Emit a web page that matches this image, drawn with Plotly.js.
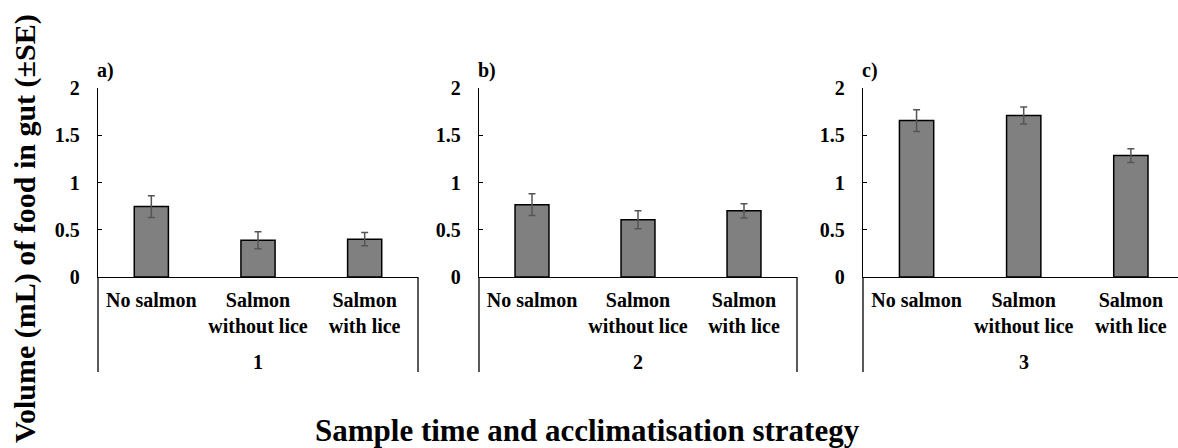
<!DOCTYPE html>
<html>
<head>
<meta charset="utf-8">
<script src="https://cdn.plot.ly/plotly-3.0.1.min.js"></script>
<style>html,body{margin:0;padding:0;background:#fff;}#chart{width:1178px;height:448px;}</style>
</head>
<body>
<div id="chart"></div>
<script>
const categories = ["No salmon", "Salmon without lice", "Salmon with lice"];
const tickLabels = ["No salmon", "Salmon<br>without lice", "Salmon<br>with lice"];
const groupLabels = ["1", "2", "3"];
const panelLabels = ["a)", "b)", "c)"];
const means1 = [0.745, 0.39, 0.40];
const se1 = [0.115, 0.09, 0.07];
const means2 = [0.765, 0.605, 0.70];
const se2 = [0.115, 0.095, 0.075];
const means3 = [1.655, 1.71, 1.285];
const se3 = [0.115, 0.09, 0.073];
const yTitle = "Volume (mL) of food in gut (±SE)";
const xTitle = "Sample time and acclimatisation strategy";

const W = 1178, H = 448;
const FONT = '"Liberation Serif", "Times New Roman", Times, serif';
const means = [means1, means2, means3];
const ses = [se1, se2, se3];
const axSuffix = ["", "2", "3"];
const xDomains = [[98 / W, 418 / W], [479 / W, 797 / W], [863 / W, 1]];
const xRanges = [[-0.5, 2.5], [-0.5, 2.5], [-0.5, 2.44]];
const yDomain = [1 - 277 / H, 1 - 88 / H];
const yBottom = 1 - 372 / H;

const traces = means.map((m, i) => ({
  type: "bar",
  x: categories,
  y: m,
  xaxis: "x" + axSuffix[i],
  yaxis: "y" + axSuffix[i],
  marker: {color: "#808080", line: {color: "#000", width: 1.5}},
  error_y: {type: "data", array: ses[i], visible: true, color: "#555", thickness: 1.5, width: 3.5},
  showlegend: false,
  hoverinfo: "skip"
}));

const tickFont = {family: FONT, size: 20, color: "#000", weight: 700};
const layout = {
  width: W, height: H,
  margin: {l: 0, r: 0, t: 0, b: 0},
  paper_bgcolor: "#fff", plot_bgcolor: "rgba(0,0,0,0)",
  bargap: 0.68,
  showlegend: false,
  shapes: [],
  annotations: []
};

for (let i = 0; i < 3; i++) {
  const s = axSuffix[i];
  layout["xaxis" + s] = {
    domain: xDomains[i], anchor: "y" + s, type: "category",
    range: xRanges[i],
    tickvals: categories, ticktext: tickLabels,
    showline: true, linecolor: "#000", linewidth: 1,
    ticks: "", showgrid: false, zeroline: false,
    tickfont: tickFont, ticklabelstandoff: 5, fixedrange: true
  };
  layout["yaxis" + s] = {
    domain: yDomain, anchor: "x" + s,
    range: [0, 2], dtick: 0.5, tick0: 0,
    showline: true, linecolor: "#000", linewidth: 1.3,
    ticks: "inside", ticklen: 4, tickwidth: 1, tickcolor: "#000",
    showgrid: false, zeroline: false,
    tickfont: tickFont, ticklabelstandoff: 13, fixedrange: true
  };
  layout.shapes.push({type: "line", xref: "x" + s + " domain", yref: "paper",
    x0: 0, x1: 0, y0: yBottom, y1: yDomain[0], line: {color: "#000", width: 1.3}});
  if (i < 2) {
    layout.shapes.push({type: "line", xref: "x" + s + " domain", yref: "paper",
      x0: 1, x1: 1, y0: yBottom, y1: yDomain[0], line: {color: "#000", width: 1.3}});
  }
  layout.annotations.push({xref: "x" + s + " domain", yref: "paper",
    x: i < 2 ? 0.5 : (1 - xRanges[i][0]) / (xRanges[i][1] - xRanges[i][0]),
    y: 1 - 362 / H, xanchor: "center", yanchor: "middle",
    text: groupLabels[i], showarrow: false, font: tickFont});
  layout.annotations.push({xref: "x" + s + " domain", yref: "paper",
    x: 0, y: 1 - 70 / H, xanchor: "left", yanchor: "middle", xshift: -3,
    text: panelLabels[i], showarrow: false, font: tickFont});
}

layout.annotations.push({xref: "paper", yref: "paper", x: 25 / W, y: 1 - 229 / H,
  xanchor: "center", yanchor: "middle", textangle: -90, text: yTitle, showarrow: false,
  font: {family: FONT, size: 30, color: "#000", weight: 700}});
layout.annotations.push({xref: "paper", yref: "paper", x: 587 / W, y: 1 - 430 / H,
  xanchor: "center", yanchor: "middle", text: xTitle, showarrow: false,
  font: {family: FONT, size: 31, color: "#000", weight: 700}});

Plotly.newPlot("chart", traces, layout, {displayModeBar: false, staticPlot: true});
</script>
</body>
</html>
